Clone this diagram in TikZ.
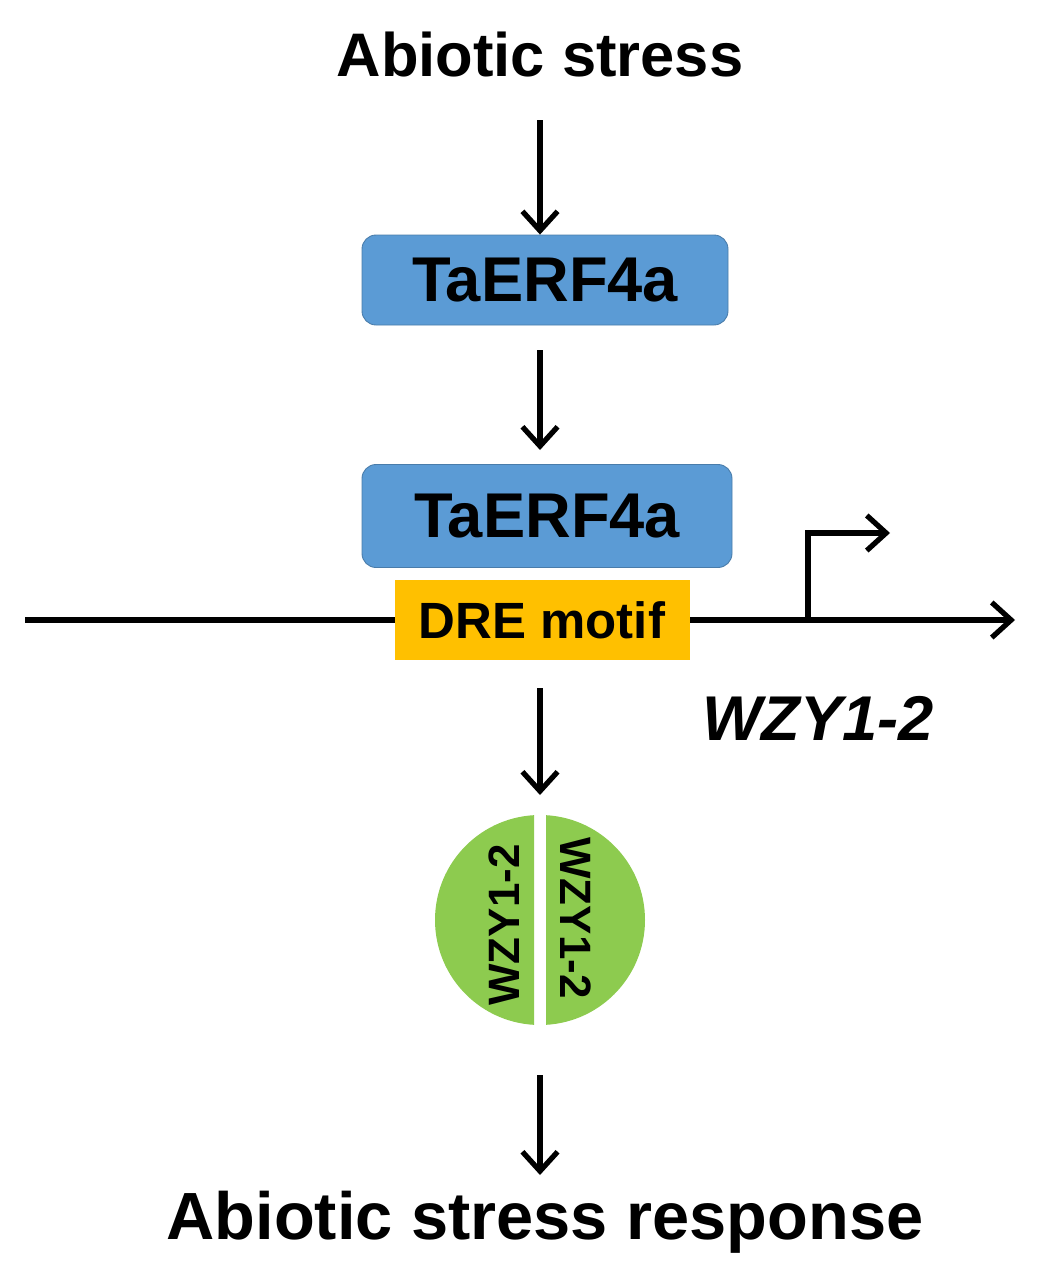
\documentclass[tikz,border=0pt]{standalone}
\usepackage{fontspec}
\setmainfont{Liberation Sans}
\usetikzlibrary{arrows.meta}
\definecolor{boxblue}{HTML}{5B9BD5}
\definecolor{dre}{HTML}{FFC000}
\definecolor{grn}{HTML}{8DCB4F}
\begin{document}
\begin{tikzpicture}[x=0.02cm,y=-0.02cm,
  arr/.style={line width=3pt,-{Straight Barb[length=11pt,width=20pt,line width=3pt]}},
  lbl/.style={font=\bfseries\fontsize{35}{40}\selectfont,inner sep=0},
  bbox/.style={fill=boxblue,draw=boxblue!80!black,line width=0.5pt,rounded corners=8pt,font=\bfseries\fontsize{36}{40}\selectfont}]
\useasboundingbox (0,0) rectangle (1048,1288);
\node[lbl] (t1) at (540,55) {Abiotic stress};
\node[bbox,minimum width=366*0.02cm,minimum height=90*0.02cm] (b1) at (545,280) {TaERF4a};
\node[bbox,minimum width=370*0.02cm,minimum height=103*0.02cm] (b2) at (547,516) {TaERF4a};
\coordinate (l0) at (25,620);
\coordinate (l1) at (1015,620);
\draw[arr] (l0) -- (l1);
\node[fill=dre,minimum width=295*0.02cm,minimum height=80*0.02cm,font=\bfseries\fontsize{29}{32}\selectfont] (dre) at (542,620) {DRE motif};
\coordinate (p0) at (808,620);
\coordinate (p1) at (890,533);
\draw[arr] (p0) |- (p1);
\node[font=\bfseries\itshape\fontsize{36}{40}\selectfont] (g) at (818,718) {WZY1-2};
\coordinate (c) at (540,920);
\begin{scope}
\clip (0,700) rectangle (534,1100);
\fill[grn] (c) circle (105*0.02cm);
\end{scope}
\begin{scope}
\clip (546,700) rectangle (1048,1100);
\fill[grn] (c) circle (105*0.02cm);
\end{scope}
\node[rotate=90,font=\bfseries\fontsize{25}{30}\selectfont] (w1) at (504,925) {WZY1-2};
\node[rotate=-90,font=\bfseries\fontsize{25}{30}\selectfont] (w2) at (576,918) {WZY1-2};
\node[lbl,font=\bfseries\fontsize{38}{42}\selectfont] (t2) at (545,1222) {Abiotic stress response};
\draw[arr] (540,120) -- (b1.north -| 540,0);
\draw[arr] (b1.south -| 540,0) ++(0,25) -- (540,450);
\draw[arr] (540,688) -- (540,795);
\draw[arr] (540,1075) -- (540,1175);
\end{tikzpicture}
\end{document}
